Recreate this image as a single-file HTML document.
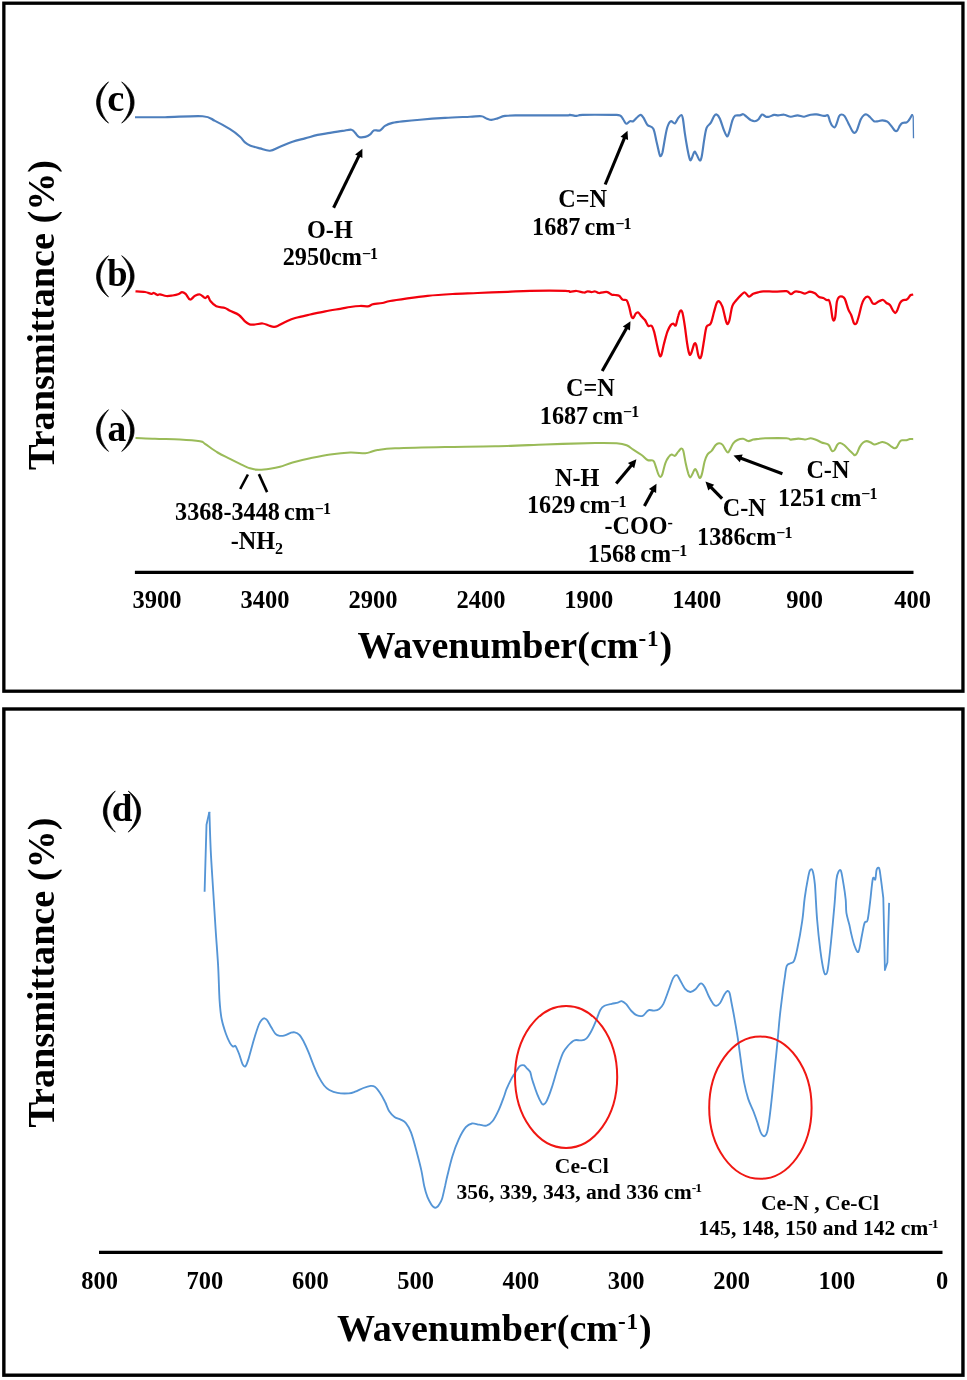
<!DOCTYPE html>
<html><head><meta charset="utf-8"><title>FTIR spectra</title>
<style>
html,body{margin:0;padding:0;background:#fff;}
body{width:967px;height:1380px;overflow:hidden;font-family:"Liberation Serif",serif;}
svg{display:block;will-change:transform;}
svg text{font-family:"Liberation Serif",serif;font-weight:bold;fill:#000;}
</style></head><body>
<svg width="967" height="1380" viewBox="0 0 967 1380">
<defs><filter id="soft" x="-2%" y="-10%" width="104%" height="120%"><feGaussianBlur stdDeviation="0.45"/></filter></defs>
<rect x="0" y="0" width="967" height="1380" fill="#fff"/>

<rect x="3.85" y="3.2" width="959.1" height="688" fill="none" stroke="#000" stroke-width="3.3"/>
<rect x="3.85" y="709" width="959.1" height="666.2" fill="none" stroke="#000" stroke-width="3.4"/>
<g fill="none" stroke-linejoin="round" stroke-linecap="butt" filter="url(#soft)">
<path transform="translate(0,0.4)" d="M135.0,116.8 C140.0,116.8 153.7,117.0 165.0,116.8 C176.3,116.6 194.3,115.2 202.6,115.8 C210.9,116.4 210.4,118.3 215.0,120.5 C219.6,122.7 225.8,126.2 230.0,128.8 C234.2,131.4 237.5,134.1 240.0,136.3 C242.5,138.5 243.3,140.6 245.0,142.0 C246.7,143.4 247.5,144.0 250.0,145.0 C252.5,146.0 256.7,147.1 260.0,148.0 C263.3,148.9 266.7,150.6 270.0,150.3 C273.3,150.0 276.2,147.8 280.0,146.3 C283.8,144.8 288.3,142.7 292.5,141.3 C296.7,139.9 300.8,139.1 305.0,138.0 C309.2,136.9 313.4,135.4 317.6,134.5 C321.8,133.6 325.8,133.2 330.0,132.5 C334.2,131.8 339.0,131.0 342.6,130.5 C346.2,130.0 349.3,129.0 351.4,129.3 C353.5,129.6 353.9,131.3 355.2,132.5 C356.5,133.7 357.3,135.8 359.0,136.5 C360.7,137.2 363.3,136.9 365.2,136.5 C367.1,136.1 368.8,135.1 370.2,134.0 C371.6,132.9 372.2,130.7 373.8,130.0 C375.4,129.3 378.1,130.8 380.0,130.0 C381.9,129.2 382.9,126.8 385.0,125.5 C387.1,124.2 389.6,123.2 392.5,122.5 C395.4,121.8 397.9,121.5 402.5,121.0 C407.1,120.5 412.9,119.9 420.0,119.3 C427.1,118.7 436.7,118.0 445.0,117.5 C453.3,117.0 463.9,116.6 470.0,116.3 C476.1,116.0 478.7,115.5 481.4,115.8 C484.1,116.1 484.7,117.4 486.4,118.0 C488.1,118.6 489.5,119.5 491.4,119.5 C493.3,119.5 495.3,118.7 497.6,118.0 C499.9,117.3 501.3,116.0 505.0,115.5 C508.7,115.0 510.0,115.1 520.0,115.0 C530.0,114.9 556.7,115.1 565.0,115.0 C573.3,114.9 568.1,114.4 570.0,114.5 C571.9,114.6 574.4,115.5 576.5,115.5 C578.6,115.5 576.8,114.7 582.7,114.5 C588.6,114.3 605.8,114.4 612.0,114.5 C618.2,114.6 618.1,114.2 620.0,115.0 C621.9,115.8 622.2,117.7 623.3,119.1 C624.3,120.5 625.2,123.0 626.3,123.3 C627.4,123.6 628.8,121.2 630.0,120.8 C631.2,120.4 632.0,121.5 633.3,120.8 C634.5,120.1 636.2,117.6 637.5,116.6 C638.8,115.5 639.8,114.3 640.8,114.5 C641.8,114.7 642.5,115.8 643.6,117.5 C644.7,119.2 645.9,122.8 647.5,124.6 C649.1,126.4 651.8,125.5 653.3,128.3 C654.8,131.1 655.6,137.6 656.6,141.6 C657.6,145.6 658.5,150.0 659.1,152.4 C659.7,154.8 659.9,155.8 660.4,155.8 C660.9,155.8 661.6,155.3 662.4,152.4 C663.1,149.5 664.1,142.6 664.9,138.3 C665.7,134.0 666.4,129.5 667.4,126.6 C668.4,123.7 669.5,121.4 670.8,120.8 C672.0,120.2 673.6,123.5 674.9,123.0 C676.1,122.5 677.2,118.9 678.3,117.5 C679.4,116.1 680.5,114.5 681.3,114.6 C682.1,114.7 682.3,115.2 682.9,118.3 C683.5,121.4 684.1,128.3 684.9,133.3 C685.6,138.3 686.6,144.0 687.4,148.3 C688.2,152.6 689.2,157.4 689.9,159.1 C690.6,160.8 690.9,159.6 691.6,158.3 C692.4,157.0 693.6,152.0 694.4,151.3 C695.2,150.6 695.7,152.7 696.6,154.1 C697.5,155.5 698.8,159.5 699.6,159.9 C700.4,160.3 700.9,159.9 701.6,156.6 C702.4,153.3 703.3,144.8 704.1,140.0 C704.9,135.2 705.5,130.4 706.6,127.5 C707.7,124.6 709.5,124.5 710.7,122.5 C712.0,120.5 713.1,117.2 714.1,115.8 C715.1,114.4 715.6,113.7 716.6,114.1 C717.6,114.5 718.7,115.6 719.9,118.3 C721.1,121.0 722.8,127.1 724.0,130.0 C725.2,132.9 726.1,135.4 726.9,135.8 C727.7,136.2 728.1,135.1 729.0,132.5 C729.9,129.9 731.4,122.9 732.4,120.0 C733.4,117.1 734.0,116.1 735.2,115.3 C736.5,114.5 738.6,115.2 739.9,115.0 C741.2,114.8 742.1,113.6 743.2,113.8 C744.3,114.0 745.2,115.3 746.5,116.3 C747.8,117.3 749.3,118.8 750.7,119.6 C752.1,120.3 753.5,120.9 754.8,120.8 C756.1,120.7 757.1,120.2 758.3,119.1 C759.5,118.0 760.8,114.6 762.0,114.1 C763.2,113.6 764.6,115.9 765.8,116.3 C767.0,116.7 767.8,116.6 769.2,116.3 C770.6,116.0 772.6,114.7 774.1,114.5 C775.6,114.3 776.6,115.0 778.3,115.0 C780.0,115.0 782.0,114.1 784.1,114.3 C786.2,114.5 788.6,116.2 790.8,116.3 C793.0,116.4 795.3,115.0 797.5,115.0 C799.7,115.0 801.9,116.4 804.1,116.3 C806.3,116.2 808.7,114.7 810.8,114.3 C812.9,113.9 814.4,113.8 816.6,114.0 C818.8,114.2 822.2,115.3 824.1,115.5 C826.0,115.7 826.9,114.1 827.9,115.0 C828.9,115.9 829.2,119.1 829.9,120.8 C830.6,122.5 831.3,124.3 832.1,125.3 C832.9,126.3 833.9,127.3 834.6,127.0 C835.4,126.7 835.9,125.2 836.6,123.3 C837.4,121.4 838.3,117.3 839.1,115.8 C839.9,114.3 840.7,114.1 841.6,114.1 C842.5,114.1 843.5,114.4 844.6,115.8 C845.7,117.2 846.9,120.0 848.2,122.5 C849.5,125.0 851.3,129.1 852.4,130.8 C853.5,132.5 853.9,132.6 854.6,132.5 C855.4,132.4 855.9,132.2 856.9,130.0 C857.9,127.8 859.5,121.7 860.7,119.1 C861.9,116.5 863.1,115.4 864.1,114.6 C865.1,113.8 865.6,113.8 866.6,114.1 C867.6,114.4 868.7,115.5 869.9,116.6 C871.1,117.7 872.6,120.1 874.0,120.8 C875.4,121.5 876.8,120.9 878.2,120.8 C879.6,120.7 880.9,119.9 882.4,120.0 C883.9,120.1 885.9,120.3 887.4,121.3 C888.9,122.3 890.2,124.3 891.5,125.8 C892.8,127.3 893.9,129.6 894.9,130.3 C895.9,131.0 896.6,130.8 897.4,130.0 C898.2,129.2 899.1,126.5 899.9,125.3 C900.7,124.0 901.3,123.0 902.4,122.5 C903.5,122.0 905.4,122.5 906.5,122.0 C907.6,121.5 908.0,120.9 909.0,119.6 C910.0,118.3 911.8,115.0 912.3,114.1" stroke="#4e7fbd" stroke-width="2.15"/>
<path d="M912.3,114.1 L913.2,116.6 L913.5,138.3" stroke="#4e7fbd" stroke-width="1.3"/>
<path d="M135.5,291.3 C137.1,291.4 142.4,291.6 145.0,292.0 C147.6,292.4 149.8,293.6 151.3,293.8 C152.8,294.0 152.8,292.8 153.8,293.0 C154.8,293.2 156.5,294.8 157.5,295.0 C158.5,295.2 158.5,294.1 160.0,294.3 C161.5,294.5 164.2,295.8 166.3,296.0 C168.4,296.2 170.4,295.8 172.5,295.5 C174.6,295.2 177.2,294.6 178.8,294.0 C180.4,293.4 180.9,292.0 182.0,292.0 C183.1,292.0 184.3,292.6 185.6,293.8 C186.9,295.1 188.4,299.2 190.0,299.5 C191.6,299.8 193.3,296.6 195.0,295.8 C196.7,295.0 198.3,294.1 200.0,294.5 C201.7,294.9 203.7,297.7 205.0,298.0 C206.3,298.3 207.1,295.8 208.0,296.3 C208.9,296.9 209.2,299.6 210.6,301.3 C212.0,303.0 213.9,305.2 216.3,306.3 C218.7,307.4 222.7,307.2 225.0,308.0 C227.3,308.8 227.7,309.6 230.0,310.8 C232.3,312.0 236.4,313.2 238.9,315.0 C241.4,316.8 243.2,319.8 245.0,321.3 C246.8,322.9 247.9,323.8 249.6,324.3 C251.3,324.8 252.8,324.6 255.0,324.5 C257.2,324.4 260.3,323.3 262.6,323.5 C264.9,323.7 267.0,324.9 268.9,325.5 C270.8,326.1 272.4,326.7 273.9,326.8 C275.3,326.9 275.7,326.8 277.6,326.0 C279.5,325.2 282.3,323.3 285.2,322.0 C288.1,320.7 291.0,319.2 295.2,318.0 C299.4,316.8 305.2,315.6 310.2,314.5 C315.2,313.4 320.2,312.2 325.2,311.3 C330.2,310.4 336.0,309.5 340.2,308.8 C344.4,308.1 346.9,307.5 350.2,307.0 C353.5,306.5 357.3,306.1 360.2,306.0 C363.1,305.9 365.7,306.6 367.7,306.3 C369.7,306.1 370.8,304.9 372.0,304.5 C373.2,304.1 373.2,304.1 375.0,303.8 C376.8,303.6 380.0,303.5 382.5,303.0 C385.0,302.5 385.8,301.8 390.0,301.0 C394.2,300.2 401.2,299.2 407.5,298.3 C413.8,297.4 420.1,296.5 427.6,295.8 C435.1,295.1 444.3,294.5 452.6,294.0 C460.9,293.5 468.4,293.4 477.6,293.0 C486.8,292.6 498.8,292.2 507.6,291.8 C516.4,291.4 520.6,291.0 530.2,290.8 C539.8,290.6 558.5,290.6 565.2,290.8 C571.9,291.0 568.3,291.8 570.2,291.8 C572.1,291.8 574.2,290.9 576.5,291.0 C578.8,291.1 582.1,292.4 584.0,292.5 C585.9,292.6 586.5,291.4 587.7,291.3 C589.0,291.2 590.2,292.0 591.5,292.0 C592.8,292.0 594.0,291.3 595.2,291.5 C596.5,291.7 597.7,292.9 599.0,293.0 C600.3,293.1 601.6,292.4 603.0,292.3 C604.4,292.2 606.0,291.7 607.5,292.1 C609.0,292.5 610.5,294.1 611.7,294.6 C613.0,295.1 613.8,294.8 615.0,295.0 C616.2,295.2 617.9,295.0 619.1,295.8 C620.4,296.6 621.2,298.9 622.5,299.6 C623.8,300.4 625.5,299.1 626.6,300.3 C627.7,301.5 628.3,304.0 629.1,306.6 C629.9,309.2 630.6,313.9 631.3,315.8 C632.0,317.7 632.5,318.4 633.3,318.0 C634.0,317.6 635.0,314.5 635.8,313.6 C636.6,312.7 637.3,312.0 638.3,312.5 C639.3,313.0 640.5,315.4 641.6,316.6 C642.7,317.9 643.9,318.5 645.0,320.0 C646.1,321.5 647.2,324.8 648.3,325.8 C649.4,326.8 650.6,324.8 651.6,325.8 C652.6,326.8 653.1,328.1 654.1,331.6 C655.1,335.1 656.5,342.7 657.4,346.6 C658.3,350.5 659.0,353.8 659.6,355.2 C660.2,356.6 660.5,357.2 661.3,355.2 C662.0,353.2 663.1,347.2 664.1,343.3 C665.1,339.4 666.3,334.7 667.4,331.6 C668.5,328.6 669.8,326.3 670.8,325.0 C671.8,323.7 672.5,323.6 673.3,323.6 C674.1,323.7 675.0,326.6 675.8,325.3 C676.6,324.0 677.5,318.2 678.3,315.8 C679.0,313.4 679.6,311.4 680.3,310.8 C681.0,310.2 681.6,309.9 682.4,312.5 C683.2,315.1 684.1,321.2 684.9,326.6 C685.7,332.0 686.6,340.4 687.4,345.0 C688.1,349.6 688.8,352.7 689.4,354.1 C690.0,355.5 690.4,355.0 691.2,353.3 C692.0,351.6 693.3,345.6 694.1,344.1 C694.9,342.7 695.4,342.8 696.1,344.6 C696.8,346.4 697.6,352.6 698.2,354.9 C698.8,357.2 699.3,358.2 699.9,358.2 C700.5,358.2 700.9,357.9 701.6,354.9 C702.3,351.9 703.3,344.7 704.1,340.0 C704.9,335.3 705.5,329.3 706.6,326.6 C707.7,323.9 709.5,326.1 710.7,323.6 C712.0,321.1 713.1,315.0 714.1,311.6 C715.1,308.2 715.8,305.0 716.6,303.3 C717.4,301.6 718.0,300.8 719.0,301.3 C720.0,301.9 721.3,303.5 722.4,306.6 C723.5,309.7 724.9,317.1 725.7,320.0 C726.5,322.9 726.8,324.1 727.4,324.1 C728.0,324.1 728.7,323.1 729.5,320.0 C730.3,316.9 731.2,309.1 732.4,305.8 C733.6,302.5 735.0,301.9 736.5,300.0 C738.0,298.1 740.1,295.9 741.5,294.6 C742.9,293.4 743.6,292.2 744.9,292.5 C746.1,292.8 747.6,296.4 749.0,296.6 C750.4,296.8 751.7,294.5 753.2,293.8 C754.7,293.1 756.3,292.7 758.0,292.3 C759.7,291.9 760.5,291.4 763.3,291.3 C766.1,291.2 771.1,291.6 775.0,291.6 C778.9,291.6 784.0,290.7 786.6,291.1 C789.2,291.5 789.4,294.0 790.8,294.1 C792.2,294.2 793.5,292.0 795.0,291.6 C796.5,291.2 798.3,291.7 800.0,292.0 C801.7,292.3 803.4,293.7 805.0,293.6 C806.6,293.5 808.2,291.7 809.9,291.6 C811.5,291.6 813.4,292.4 814.9,293.3 C816.4,294.2 817.7,296.2 819.1,297.0 C820.5,297.8 822.0,297.5 823.3,298.0 C824.5,298.5 825.6,299.6 826.6,300.0 C827.6,300.4 828.4,299.4 829.1,300.5 C829.8,301.6 830.2,303.8 830.8,306.6 C831.3,309.4 831.9,315.2 832.4,317.5 C832.9,319.8 833.3,320.6 833.8,320.5 C834.3,320.4 834.8,319.8 835.3,316.6 C835.8,313.5 836.3,304.9 836.9,301.6 C837.5,298.3 838.2,297.8 839.1,297.0 C840.0,296.2 841.4,296.2 842.4,296.6 C843.4,297.0 843.9,297.0 844.9,299.1 C845.9,301.2 847.2,306.5 848.2,309.1 C849.2,311.8 850.3,312.8 851.2,315.0 C852.1,317.2 853.0,321.0 853.6,322.5 C854.2,324.0 854.4,324.0 854.9,324.1 C855.4,324.2 855.9,324.5 856.6,323.0 C857.3,321.5 858.3,318.0 859.1,315.0 C859.9,312.0 860.8,307.6 861.6,305.0 C862.4,302.4 863.1,300.5 864.1,299.1 C865.1,297.7 866.4,296.7 867.4,296.6 C868.4,296.5 869.1,297.2 869.9,298.3 C870.7,299.4 871.6,302.1 872.4,303.0 C873.2,303.9 873.8,304.1 874.9,303.8 C876.0,303.5 877.6,301.9 879.0,301.3 C880.4,300.7 882.0,299.7 883.2,300.0 C884.5,300.3 885.4,302.2 886.5,303.0 C887.6,303.8 888.8,303.7 889.9,305.0 C891.0,306.3 892.3,309.5 893.2,310.8 C894.1,312.1 894.7,313.1 895.4,313.0 C896.1,312.9 896.6,311.6 897.4,310.0 C898.1,308.4 899.1,304.9 899.9,303.3 C900.7,301.7 901.3,301.1 902.4,300.5 C903.5,299.9 905.5,300.0 906.5,299.6 C907.5,299.2 907.5,299.1 908.2,298.3 C908.9,297.5 909.9,295.6 910.7,295.0 C911.5,294.4 912.8,294.6 913.2,294.5" stroke="#f2000c" stroke-width="2.25"/>
<path d="M135.5,438.0 C138.8,438.1 147.6,438.6 155.0,438.8 C162.4,439.1 172.5,439.1 180.0,439.5 C187.5,439.9 195.8,440.6 200.0,441.3 C204.2,442.0 202.1,441.9 205.0,443.8 C207.9,445.7 213.4,450.0 217.6,452.5 C221.8,455.0 226.3,456.9 230.0,458.8 C233.7,460.7 236.7,462.2 240.0,463.8 C243.3,465.4 246.8,467.3 250.0,468.3 C253.2,469.3 255.6,469.7 258.9,469.8 C262.2,469.9 266.5,469.3 270.0,468.8 C273.5,468.3 276.2,467.9 280.0,466.8 C283.8,465.8 287.6,463.9 292.6,462.5 C297.6,461.1 303.9,459.6 310.2,458.3 C316.5,457.0 323.5,455.5 330.2,454.5 C336.9,453.5 344.4,452.7 350.2,452.5 C356.0,452.3 361.6,453.5 365.2,453.3 C368.8,453.1 369.9,452.1 372.0,451.5 C374.1,450.9 373.7,450.5 377.5,450.0 C381.3,449.5 383.8,448.8 395.0,448.3 C406.2,447.8 428.3,447.3 445.0,447.0 C461.7,446.7 478.3,446.7 495.0,446.3 C511.7,445.9 528.5,445.1 545.2,444.5 C561.9,443.9 583.3,443.2 595.2,443.0 C607.1,442.8 611.4,442.9 616.6,443.3 C621.8,443.7 623.8,444.2 626.6,445.3 C629.4,446.4 630.8,448.0 633.3,449.6 C635.8,451.2 639.2,453.3 641.6,455.0 C644.0,456.7 645.5,459.0 647.5,460.0 C649.5,461.0 651.9,459.7 653.3,460.8 C654.7,461.9 655.0,464.4 655.8,466.6 C656.6,468.8 657.5,472.4 658.3,474.1 C659.0,475.8 659.6,476.9 660.3,476.9 C661.0,476.9 661.6,476.4 662.4,474.1 C663.2,471.8 664.3,466.1 665.3,463.3 C666.3,460.5 667.2,458.9 668.3,457.5 C669.3,456.1 670.5,454.9 671.6,454.6 C672.7,454.3 673.8,456.3 674.9,455.8 C676.0,455.3 677.2,452.8 678.3,451.6 C679.4,450.4 680.5,448.7 681.3,448.6 C682.1,448.5 682.6,448.4 683.3,450.8 C684.0,453.2 684.9,459.6 685.7,463.3 C686.5,467.1 687.5,471.0 688.2,473.3 C689.0,475.6 689.5,477.3 690.2,477.4 C690.9,477.5 691.6,475.5 692.4,474.1 C693.2,472.7 694.1,469.5 694.9,469.1 C695.6,468.7 696.1,470.1 696.9,471.6 C697.7,473.1 698.8,477.5 699.6,477.9 C700.4,478.3 701.1,476.8 701.9,474.1 C702.7,471.4 703.7,464.9 704.6,461.6 C705.5,458.4 706.2,456.4 707.4,454.6 C708.6,452.8 710.2,452.4 711.6,450.8 C713.0,449.2 714.5,446.2 715.7,445.0 C716.9,443.8 717.9,443.4 719.0,443.3 C720.1,443.2 721.3,443.5 722.4,444.6 C723.5,445.7 724.8,448.7 725.7,450.0 C726.6,451.3 727.1,452.6 727.9,452.5 C728.6,452.4 729.3,450.6 730.2,449.1 C731.1,447.6 732.0,444.8 733.2,443.3 C734.4,441.8 735.7,440.8 737.4,440.0 C739.1,439.2 741.4,438.6 743.2,438.8 C745.0,439.0 746.5,441.0 748.2,441.1 C749.9,441.2 751.6,440.0 753.2,439.6 C754.8,439.2 756.0,439.2 758.0,439.0 C760.0,438.8 760.2,438.4 765.0,438.3 C769.8,438.2 782.3,438.1 786.6,438.3 C790.9,438.5 788.8,439.6 790.8,439.6 C792.8,439.7 795.9,438.6 798.3,438.6 C800.7,438.6 802.9,439.6 805.0,439.5 C807.1,439.4 808.9,438.2 810.8,438.3 C812.7,438.4 814.8,439.3 816.6,440.0 C818.4,440.7 819.7,441.7 821.6,442.5 C823.5,443.3 826.8,443.5 828.3,444.6 C829.8,445.7 830.1,448.0 830.8,449.1 C831.5,450.2 831.8,451.2 832.4,451.3 C833.0,451.4 833.8,451.1 834.6,450.0 C835.4,448.9 836.5,445.8 837.4,444.6 C838.3,443.4 839.1,442.9 840.2,443.0 C841.3,443.1 842.6,443.8 844.1,445.0 C845.6,446.2 847.6,448.5 849.1,450.0 C850.6,451.5 852.2,453.2 853.2,454.1 C854.2,455.0 854.3,455.4 854.9,455.3 C855.5,455.2 856.1,454.8 856.9,453.3 C857.7,451.9 858.8,448.4 859.9,446.6 C861.0,444.8 862.1,443.4 863.2,442.5 C864.3,441.6 865.4,441.1 866.6,441.1 C867.9,441.1 869.4,441.9 870.7,442.5 C872.0,443.1 873.1,444.4 874.5,444.5 C875.9,444.6 877.7,443.4 879.0,443.0 C880.3,442.6 881.0,442.0 882.4,442.1 C883.8,442.2 885.9,442.9 887.4,443.6 C888.9,444.4 890.3,445.8 891.5,446.6 C892.7,447.4 893.6,448.2 894.5,448.3 C895.4,448.4 896.0,448.1 896.9,447.0 C897.8,445.9 899.0,442.7 899.9,441.6 C900.8,440.5 901.3,440.5 902.4,440.3 C903.5,440.1 905.3,440.5 906.5,440.3 C907.7,440.1 908.7,439.3 909.8,439.1 C910.9,438.9 912.6,439.1 913.2,439.1" stroke="#9abb59" stroke-width="2.05"/>
</g>
<line x1="134.9" y1="572.4" x2="913.5" y2="572.4" stroke="#000" stroke-width="3.2"/>
<text x="157.0" y="608.2" font-size="24.5" text-anchor="middle" >3900</text>
<text x="264.9" y="608.2" font-size="24.5" text-anchor="middle" >3400</text>
<text x="372.9" y="608.2" font-size="24.5" text-anchor="middle" >2900</text>
<text x="480.9" y="608.2" font-size="24.5" text-anchor="middle" >2400</text>
<text x="588.8" y="608.2" font-size="24.5" text-anchor="middle" >1900</text>
<text x="696.8" y="608.2" font-size="24.5" text-anchor="middle" >1400</text>
<text x="804.7" y="608.2" font-size="24.5" text-anchor="middle" >900</text>
<text x="912.6" y="608.2" font-size="24.5" text-anchor="middle" >400</text>
<text x="357.4" y="657.8" font-size="38.05">Wavenumber(cm<tspan font-size="23.2" dy="-12.3" letter-spacing="0.9">-1</tspan><tspan dy="12.3">)</tspan></text>
<text transform="translate(54.3,470) rotate(-90)" font-size="38.2">Transmittance (%)</text>
<path d="M108.50,81.90 C92.57,93.64 92.57,111.36 108.50,123.10 C97.23,110.12 97.23,94.88 108.50,81.90Z" fill="#000" stroke="#000" stroke-width="0.7" stroke-linejoin="round"/><path d="M121.70,81.90 C138.30,93.64 138.30,111.36 121.70,123.10 C133.63,110.12 133.63,94.88 121.70,81.90Z" fill="#000" stroke="#000" stroke-width="0.7" stroke-linejoin="round"/><text transform="translate(115.85,110.60) scale(1.0,1)" font-size="38.6" text-anchor="middle">c</text>
<path d="M108.50,255.70 C92.57,267.44 92.57,285.16 108.50,296.90 C97.23,283.92 97.23,268.68 108.50,255.70Z" fill="#000" stroke="#000" stroke-width="0.7" stroke-linejoin="round"/><path d="M121.70,255.70 C138.30,267.44 138.30,285.16 121.70,296.90 C133.63,283.92 133.63,268.68 121.70,255.70Z" fill="#000" stroke="#000" stroke-width="0.7" stroke-linejoin="round"/><text transform="translate(117.30,285.90) scale(0.975,1)" font-size="37.4" text-anchor="middle">b</text>
<path d="M108.50,409.70 C92.57,421.58 92.57,439.52 108.50,451.40 C97.23,438.26 97.23,422.84 108.50,409.70Z" fill="#000" stroke="#000" stroke-width="0.7" stroke-linejoin="round"/><path d="M121.70,409.70 C138.30,421.58 138.30,439.52 121.70,451.40 C133.63,438.26 133.63,422.84 121.70,409.70Z" fill="#000" stroke="#000" stroke-width="0.7" stroke-linejoin="round"/><text transform="translate(117.00,441.40) scale(0.98,1)" font-size="38.4" text-anchor="middle">a</text>
<text x="329.9" y="237.6" font-size="24.2" text-anchor="middle" >O-H</text>
<text x="329.9" y="265.4" font-size="24.2" text-anchor="middle" >2950cm<tspan font-size="16.0" dy="-6.4" letter-spacing="-1">−1</tspan></text>
<line x1="333.6" y1="207.8" x2="359.2" y2="155.4" stroke="#000" stroke-width="3.1"/><polygon points="362.4,148.8 362.4,158.1 355.1,154.5" fill="#000"/>
<text x="582.7" y="206.8" font-size="24.2" text-anchor="middle" >C=N</text>
<text x="581.3" y="234.9" font-size="24.2" text-anchor="middle" word-spacing="-2">1687 cm<tspan font-size="16.0" dy="-6.4" letter-spacing="-1">−1</tspan></text>
<line x1="605.2" y1="184.5" x2="624.7" y2="137.4" stroke="#000" stroke-width="3.1"/><polygon points="627.5,130.7 628.1,139.9 620.5,136.8" fill="#000"/>
<text x="590.3" y="395.6" font-size="24.2" text-anchor="middle" >C=N</text>
<text x="589.0" y="423.8" font-size="24.2" text-anchor="middle" word-spacing="-2">1687 cm<tspan font-size="16.0" dy="-6.4" letter-spacing="-1">−1</tspan></text>
<line x1="602.2" y1="371.1" x2="626.9" y2="327.5" stroke="#000" stroke-width="3.1"/><polygon points="630.5,321.2 630.0,330.4 622.8,326.4" fill="#000"/>
<text x="252.5" y="520.4" font-size="24.2" text-anchor="middle" word-spacing="-2">3368-3448 cm<tspan font-size="16.0" dy="-6.4" letter-spacing="-1">−1</tspan></text>
<text x="256.9" y="549.3" font-size="24.2" text-anchor="middle" >-NH<tspan font-size="16.0" dy="4.6">2</tspan></text>
<line x1="247.9" y1="474.5" x2="240.2" y2="489" stroke="#000" stroke-width="2.6"/>
<line x1="258.9" y1="474.1" x2="267.1" y2="492.1" stroke="#000" stroke-width="2.6"/>
<text x="577.2" y="485.5" font-size="24.2" text-anchor="middle" >N-H</text>
<text x="576.2" y="513.4" font-size="24.2" text-anchor="middle" word-spacing="-2">1629 cm<tspan font-size="16.0" dy="-6.4" letter-spacing="-1">−1</tspan></text>
<line x1="616.2" y1="483.6" x2="631.7" y2="464.9" stroke="#000" stroke-width="3.1"/><polygon points="636.4,459.3 634.2,468.3 627.9,463.1" fill="#000"/>
<text x="638.2" y="534.1" font-size="24.2" text-anchor="middle" >-COO<tspan font-size="16.0" dy="-6.4" letter-spacing="-1">-</tspan></text>
<text x="637.0" y="562.0" font-size="24.2" text-anchor="middle" word-spacing="-2">1568 cm<tspan font-size="16.0" dy="-6.4" letter-spacing="-1">−1</tspan></text>
<line x1="644.4" y1="505.9" x2="653.0" y2="490.2" stroke="#000" stroke-width="3.1"/><polygon points="656.5,483.8 656.1,493.0 648.9,489.1" fill="#000"/>
<text x="744.3" y="516.2" font-size="24.2" text-anchor="middle" >C-N</text>
<text x="744.3" y="544.7" font-size="24.2" text-anchor="middle" >1386cm<tspan font-size="16.0" dy="-6.4" letter-spacing="-1">−1</tspan></text>
<line x1="722.1" y1="498.7" x2="710.6" y2="486.8" stroke="#000" stroke-width="3.1"/><polygon points="705.5,481.6 714.2,484.7 708.3,490.4" fill="#000"/>
<text x="827.9" y="477.5" font-size="24.2" text-anchor="middle" >C-N</text>
<text x="827.2" y="505.5" font-size="24.2" text-anchor="middle" word-spacing="-2">1251 cm<tspan font-size="16.0" dy="-6.4" letter-spacing="-1">−1</tspan></text>
<line x1="782.4" y1="473.7" x2="740.3" y2="458.0" stroke="#000" stroke-width="3.1"/><polygon points="733.5,455.5 742.7,454.6 739.8,462.2" fill="#000"/>
<g fill="none" stroke-linejoin="round" stroke-linecap="butt" filter="url(#soft)">
<path d="M204.6,891.8 L206.5,824.8 L209.4,811.9" stroke="#5495d6" stroke-width="1.85"/>
<path d="M209.4,811.9 C209.6,818.2 210.1,836.4 210.7,849.6 C211.3,862.8 212.4,877.8 213.2,891.0 C214.0,904.2 214.8,916.6 215.6,929.0 C216.4,941.4 217.4,953.4 218.1,965.4 C218.8,977.4 219.0,991.7 219.6,1000.7 C220.2,1009.7 220.6,1013.8 221.7,1019.3 C222.8,1024.8 224.5,1029.8 225.9,1033.8 C227.3,1037.8 228.8,1041.0 230.0,1043.1 C231.2,1045.2 232.2,1046.1 233.1,1046.6 C234.0,1047.1 234.6,1044.9 235.6,1046.2 C236.6,1047.5 238.2,1051.6 239.3,1054.5 C240.4,1057.4 241.4,1061.8 242.4,1063.8 C243.4,1065.8 244.5,1067.1 245.5,1066.2 C246.5,1065.3 247.2,1063.0 248.6,1058.6 C250.0,1054.2 252.1,1045.7 253.8,1040.0 C255.5,1034.3 257.5,1027.9 258.9,1024.5 C260.3,1021.1 261.1,1020.7 262.0,1019.7 C262.9,1018.7 263.6,1018.2 264.5,1018.3 C265.4,1018.4 266.1,1018.8 267.2,1020.3 C268.3,1021.8 270.0,1025.3 271.4,1027.6 C272.8,1029.8 274.1,1032.4 275.5,1033.8 C276.9,1035.2 278.1,1035.5 279.6,1035.8 C281.2,1036.1 282.9,1035.9 284.8,1035.4 C286.7,1034.9 289.4,1033.2 291.0,1032.7 C292.6,1032.2 293.3,1032.0 294.7,1032.3 C296.1,1032.6 297.9,1033.3 299.3,1034.8 C300.8,1036.2 301.8,1038.1 303.4,1041.0 C304.9,1043.9 306.9,1048.3 308.6,1052.4 C310.3,1056.5 312.1,1061.7 313.8,1065.8 C315.5,1069.9 317.2,1073.9 318.9,1077.2 C320.6,1080.5 322.4,1083.4 324.1,1085.5 C325.8,1087.6 327.1,1088.8 329.3,1090.0 C331.5,1091.2 334.2,1092.4 337.5,1092.9 C340.8,1093.5 346.0,1093.5 348.9,1093.3 C351.8,1093.1 352.7,1092.6 355.1,1091.7 C357.5,1090.8 360.8,1089.0 363.4,1088.0 C366.0,1087.0 368.7,1086.1 370.6,1085.9 C372.5,1085.7 373.2,1085.6 374.8,1086.7 C376.4,1087.8 378.2,1090.2 379.9,1092.7 C381.6,1095.2 383.6,1098.9 385.1,1102.0 C386.7,1105.1 387.6,1108.8 389.2,1111.3 C390.8,1113.8 392.6,1115.5 394.5,1116.9 C396.4,1118.3 398.8,1118.6 400.7,1119.6 C402.6,1120.6 404.2,1121.0 405.9,1123.1 C407.6,1125.2 409.3,1127.9 411.0,1132.4 C412.7,1136.9 414.5,1143.6 416.2,1150.0 C417.9,1156.4 420.1,1164.6 421.4,1170.6 C422.7,1176.6 423.2,1181.6 424.2,1186.0 C425.2,1190.4 426.3,1194.1 427.5,1197.2 C428.7,1200.3 430.5,1203.1 431.5,1204.7 C432.5,1206.3 433.0,1206.5 433.6,1207.0 C434.2,1207.5 434.7,1207.7 435.3,1207.7 C435.9,1207.7 436.4,1207.4 437.0,1207.0 C437.6,1206.6 437.9,1206.5 438.7,1205.2 C439.5,1203.9 440.8,1202.6 441.9,1199.3 C443.0,1196.0 444.2,1189.6 445.2,1185.5 C446.1,1181.4 446.4,1179.7 447.6,1174.8 C448.8,1169.9 450.6,1162.1 452.4,1156.2 C454.2,1150.3 456.4,1144.4 458.6,1139.6 C460.8,1134.8 463.6,1129.9 465.8,1127.2 C468.0,1124.5 469.8,1123.9 472.0,1123.5 C474.2,1123.1 476.9,1124.4 479.3,1124.7 C481.7,1125.0 484.3,1126.2 486.5,1125.6 C488.7,1125.0 490.6,1123.7 492.7,1121.0 C494.8,1118.3 497.0,1113.7 498.9,1109.6 C500.8,1105.5 502.8,1099.7 504.1,1096.2 C505.4,1092.8 505.4,1091.7 506.6,1088.9 C507.8,1086.1 510.0,1081.6 511.2,1079.2 C512.4,1076.8 513.0,1076.2 514.0,1074.6 C515.0,1072.9 516.5,1070.6 517.4,1069.3 C518.3,1068.0 518.7,1067.3 519.3,1066.7 C519.9,1066.1 520.3,1065.6 521.1,1065.4 C521.9,1065.2 523.3,1065.0 524.2,1065.4 C525.1,1065.9 525.7,1067.0 526.7,1068.1 C527.7,1069.1 529.3,1070.2 530.1,1071.7 C530.9,1073.2 531.0,1075.2 531.6,1077.4 C532.2,1079.6 533.0,1082.0 533.9,1084.8 C534.8,1087.6 536.0,1091.1 537.2,1094.1 C538.4,1097.1 540.3,1101.1 541.3,1102.8 C542.3,1104.5 542.5,1104.7 543.4,1104.5 C544.3,1104.3 545.1,1104.2 546.5,1101.4 C547.9,1098.6 549.8,1093.6 551.7,1087.9 C553.6,1082.2 556.0,1073.1 557.9,1067.2 C559.8,1061.3 561.3,1056.4 563.0,1052.8 C564.7,1049.2 566.3,1047.6 568.2,1045.5 C570.1,1043.4 572.3,1041.1 574.4,1040.3 C576.5,1039.5 578.8,1040.6 580.7,1040.4 C582.6,1040.2 584.2,1040.4 585.9,1038.9 C587.6,1037.5 589.3,1034.8 591.0,1031.7 C592.7,1028.6 594.7,1023.9 596.2,1020.3 C597.8,1016.7 598.9,1012.4 600.3,1010.0 C601.7,1007.6 602.6,1006.8 604.5,1005.8 C606.4,1004.8 609.5,1004.3 611.7,1003.8 C613.9,1003.3 616.2,1003.2 617.9,1002.7 C619.5,1002.2 620.2,1000.9 621.6,1001.1 C623.0,1001.4 624.6,1002.6 626.2,1004.2 C627.8,1005.9 629.7,1009.2 631.4,1011.0 C633.1,1012.8 634.6,1014.3 636.5,1015.1 C638.4,1015.9 641.0,1016.4 642.7,1015.8 C644.4,1015.2 645.8,1012.6 646.9,1011.6 C648.0,1010.6 648.1,1010.2 649.3,1010.0 C650.5,1009.8 652.4,1010.8 654.1,1010.6 C655.8,1010.4 657.8,1010.0 659.3,1008.9 C660.8,1007.8 661.8,1006.9 663.4,1003.8 C665.0,1000.7 667.0,994.6 668.6,990.3 C670.2,986.0 671.9,980.4 673.3,977.9 C674.7,975.4 675.8,974.9 676.9,975.2 C678.0,975.6 678.6,977.7 680.0,980.0 C681.4,982.3 683.4,986.9 685.1,988.9 C686.8,990.9 688.6,991.9 690.3,992.0 C692.0,992.1 694.0,990.6 695.5,989.3 C697.0,988.0 698.6,985.1 699.6,984.1 C700.6,983.1 700.8,983.0 701.7,983.5 C702.6,984.0 703.6,985.0 704.8,987.2 C706.0,989.4 707.5,993.7 708.9,996.5 C710.3,999.3 711.9,1002.2 713.1,1003.8 C714.3,1005.3 715.0,1006.0 716.2,1005.8 C717.4,1005.6 718.9,1004.6 720.3,1002.7 C721.7,1000.8 723.2,996.5 724.4,994.5 C725.6,992.5 726.6,991.2 727.5,991.0 C728.4,990.8 728.9,990.9 729.6,993.0 C730.3,995.1 730.8,999.2 731.7,1003.8 C732.6,1008.3 733.8,1014.4 734.8,1020.3 C735.8,1026.2 736.9,1032.0 737.9,1038.9 C738.9,1045.8 740.0,1054.5 741.0,1061.7 C742.0,1069.0 742.9,1076.2 744.1,1082.4 C745.3,1088.6 746.7,1094.1 748.2,1098.9 C749.8,1103.7 751.9,1107.3 753.4,1111.3 C754.9,1115.3 756.3,1119.2 757.5,1122.7 C758.7,1126.2 759.6,1129.8 760.5,1132.0 C761.4,1134.2 762.3,1135.2 763.1,1135.8 C763.9,1136.4 764.4,1136.5 765.1,1135.8 C765.8,1135.1 766.5,1134.5 767.2,1131.7 C767.9,1129.0 768.4,1125.8 769.3,1119.3 C770.2,1112.8 771.4,1102.1 772.4,1092.4 C773.4,1082.8 774.6,1070.0 775.5,1061.4 C776.4,1052.8 776.9,1048.4 777.6,1040.7 C778.3,1033.0 779.1,1023.0 779.9,1015.5 C780.7,1008.0 781.5,1002.0 782.3,995.6 C783.1,989.2 784.0,982.4 784.8,977.4 C785.5,972.4 785.8,968.1 786.8,965.8 C787.8,963.4 789.4,964.1 790.6,963.3 C791.8,962.5 792.8,963.5 793.9,961.2 C795.0,958.9 795.8,956.0 797.2,949.3 C798.6,942.6 801.0,929.6 802.2,921.1 C803.5,912.6 803.7,905.2 804.7,898.0 C805.7,890.8 807.1,882.7 808.0,878.1 C808.9,873.5 809.2,871.4 810.0,870.2 C810.8,869.0 811.8,868.3 812.6,870.7 C813.4,873.1 814.1,876.6 814.9,884.7 C815.6,892.8 816.2,908.5 817.1,919.5 C818.0,930.5 819.3,942.4 820.4,950.9 C821.5,959.4 822.8,966.9 823.7,970.8 C824.6,974.7 825.2,974.4 825.9,974.1 C826.6,973.8 826.9,974.6 827.8,969.1 C828.7,963.6 830.0,951.8 831.1,941.0 C832.2,930.2 833.6,914.8 834.5,904.6 C835.4,894.4 835.7,885.3 836.4,879.8 C837.1,874.3 837.8,872.9 838.6,871.5 C839.4,870.1 840.3,869.0 841.1,871.2 C841.9,873.4 842.8,880.0 843.6,884.7 C844.4,889.4 845.2,894.9 845.7,899.6 C846.2,904.3 845.8,908.8 846.4,912.9 C847.0,917.0 848.5,921.2 849.3,924.5 C850.1,927.8 850.2,929.3 851.0,932.7 C851.8,936.1 853.1,941.9 854.3,945.1 C855.5,948.3 857.1,953.3 858.4,951.8 C859.6,950.3 860.8,940.8 861.8,936.0 C862.8,931.2 863.6,925.4 864.6,922.8 C865.6,920.2 866.6,923.6 867.5,920.3 C868.4,917.0 869.1,909.8 870.0,902.9 C870.9,896.0 871.9,882.9 872.8,879.0 C873.7,875.1 874.7,881.0 875.3,879.5 C875.9,878.0 876.0,871.8 876.6,869.9 C877.2,868.0 878.4,866.8 879.1,868.2 C879.8,869.6 880.1,873.1 880.8,878.1 C881.5,883.1 882.9,894.7 883.3,898.0" stroke="#5495d6" stroke-width="1.85"/>
<path d="M883.3,898.0 L884.1,932.7 L884.9,970.0 L887.4,962.5 L888.2,932.7 L889.1,902.9" stroke="#5495d6" stroke-width="1.8"/>
<ellipse cx="566.1" cy="1076.9" rx="51.1" ry="71" stroke="#f01812" stroke-width="2.0"/>
<ellipse cx="760.4" cy="1107.7" rx="51.2" ry="71.1" stroke="#f01812" stroke-width="2.0"/>
</g>
<line x1="99.0" y1="1252.35" x2="942.5" y2="1252.35" stroke="#000" stroke-width="3.3"/>
<text x="99.6" y="1288.6" font-size="24.5" text-anchor="middle" >800</text>
<text x="204.9" y="1288.6" font-size="24.5" text-anchor="middle" >700</text>
<text x="310.3" y="1288.6" font-size="24.5" text-anchor="middle" >600</text>
<text x="415.6" y="1288.6" font-size="24.5" text-anchor="middle" >500</text>
<text x="520.9" y="1288.6" font-size="24.5" text-anchor="middle" >400</text>
<text x="626.2" y="1288.6" font-size="24.5" text-anchor="middle" >300</text>
<text x="731.6" y="1288.6" font-size="24.5" text-anchor="middle" >200</text>
<text x="836.9" y="1288.6" font-size="24.5" text-anchor="middle" >100</text>
<text x="942.2" y="1288.6" font-size="24.5" text-anchor="middle" >0</text>
<text x="336.9" y="1341.3" font-size="38.05">Wavenumber(cm<tspan font-size="23.2" dy="-12.3" letter-spacing="0.9">-1</tspan><tspan dy="12.3">)</tspan></text>
<text transform="translate(53.8,1127.6) rotate(-90)" font-size="38.2">Transmittance (%)</text>
<path d="M115.30,791.00 C99.37,802.71 99.37,820.39 115.30,832.10 C104.03,819.15 104.03,803.95 115.30,791.00Z" fill="#000" stroke="#000" stroke-width="0.7" stroke-linejoin="round"/><path d="M128.20,791.00 C144.80,802.71 144.80,820.39 128.20,832.10 C140.13,819.15 140.13,803.95 128.20,791.00Z" fill="#000" stroke="#000" stroke-width="0.7" stroke-linejoin="round"/><text transform="translate(122.05,820.50) scale(1.0,1)" font-size="37.2" text-anchor="middle">d</text>
<text x="581.8" y="1172.8" font-size="21.6" text-anchor="middle" >Ce-Cl</text>
<text x="578.7" y="1198.6" font-size="21.6" text-anchor="middle" >356, 339, 343, and 336 cm<tspan font-size="13.5" dy="-6.9" letter-spacing="-1">-1</tspan></text>
<text x="820.0" y="1209.8" font-size="21.6" text-anchor="middle" >Ce-N , Ce-Cl</text>
<text x="818.0" y="1235.0" font-size="21.6" text-anchor="middle" >145, 148, 150 and 142 cm<tspan font-size="13.5" dy="-6.9" letter-spacing="-1">-1</tspan></text>
</svg>
</body></html>
